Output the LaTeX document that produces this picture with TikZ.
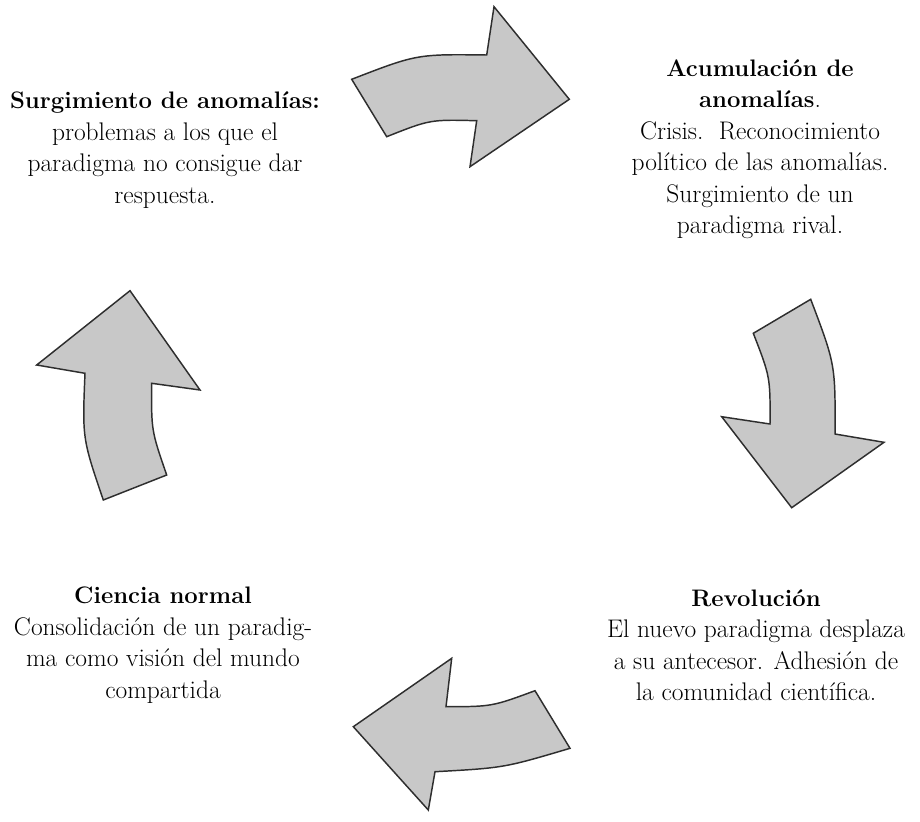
\documentclass[tikz,border=0pt]{standalone}
\usepackage{fontspec}
\newcommand\hdtxt[1]{{\fontsize{17.9}{23.6}\selectfont\bfseries #1}}
\begin{document}
\begin{tikzpicture}[x=0.75pt,y=-0.75pt,
  cyc/.style={fill=arrowgray,draw=arrowline,line width=1.1pt,line join=miter},
  lbl/.style={align=center,inner sep=0pt,font=\fontsize{19.1}{23.6}\selectfont,text=black}]
\definecolor{arrowgray}{HTML}{C8C8C8}
\definecolor{arrowline}{HTML}{2E2E2E}
\useasboundingbox (0,0) rectangle (920,821);
% top arrow
\draw[cyc] (351.7,79.3) -- (386.7,136.7)
  .. controls (430.1,119.5) .. (476.7,120.7)
  -- (470,166.7) -- (569.3,99.3) -- (494,6.7) -- (486.7,55)
  .. controls (416.8,54.1) .. cycle;
% right arrow
\draw[cyc] (753.3,333.3) -- (810.7,299.3)
  .. controls (835.4,364.5) .. (835,434)
  -- (884,442.3) -- (791.7,507.7) -- (721.7,416.7) -- (770,424)
  .. controls (770.3,377.1) .. cycle;
% bottom arrow
\draw[cyc] (535,690.7) -- (570,748.3)
  .. controls (503.9,767.9) .. (435,771.7)
  -- (428.3,810) -- (353.3,726.7) -- (451.7,658.3) -- (446,706.7)
  .. controls (491.9,706.6) .. cycle;
% left arrow
\draw[cyc] (130,290.7) -- (200,390) -- (151.7,383.3)
  .. controls (151.3,430.5) .. (166.7,475)
  -- (103.3,500)
  .. controls (82.3,438.4) .. (85,373.3)
  -- (36.7,365) -- cycle;
% texts
\node[lbl] (tl) at (165,150) {\hdtxt{Surgimiento de anomalías:}\\problemas a los que el\\paradigma no consigue dar\\respuesta.};
\node[lbl] (tr) at (760,149) {\hdtxt{Acumulación de}\\\hdtxt{anomalías}.\\Crisis.\ \ Reconocimiento\\político de las anomalías.\\Surgimiento de un\\paradigma rival.};
\node[lbl] (bl) at (163,645) {\hdtxt{Ciencia normal}\\Consolidación de un paradig-\\ma como visión del mundo\\compartida};
\node[lbl] (br) at (756,645) {\hdtxt{Revolución}\\El nuevo paradigma desplaza\\a su antecesor. Adhesión de\\la comunidad científica.};
\end{tikzpicture}
\end{document}
